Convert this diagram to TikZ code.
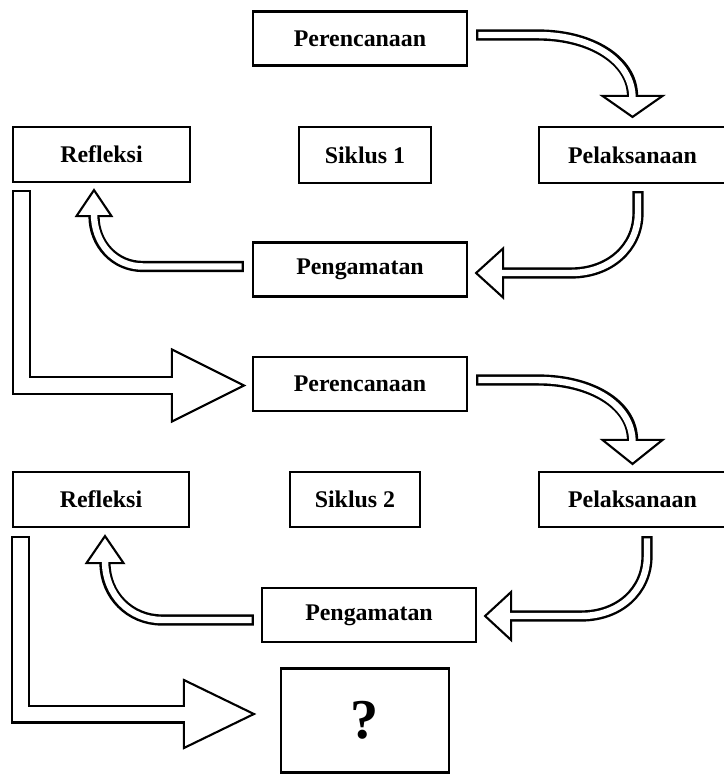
\documentclass[tikz,border=0pt]{standalone}
\usepackage{fontspec}
\setmainfont{Liberation Serif}
\usetikzlibrary{calc}

\begin{document}
\begin{tikzpicture}[x=0.025cm,y=-0.025cm,
  box/.style={draw,line width=1.5pt,minimum width=5.35cm,minimum height=1.35cm,inner sep=0pt,font=\fontsize{17}{19}\selectfont\bfseries},
  shaft/.style={draw,line width=8pt,postaction={draw=white,line width=4.6pt,shorten <=1.7pt,shorten >=-1.8pt}},
  wideshaft/.style={draw,line width=13.5pt,line join=miter,postaction={draw=white,line width=10.6pt,shorten <=1.5pt,shorten >=-2pt}},
  head/.style={draw,fill=white,line width=1.5pt,line join=miter}
]
\useasboundingbox (0,0) rectangle (723,775);

% siklus 1
\node[box] (per1) at (360,38.5) {Perencanaan};
\node[box,minimum width=3.3cm,minimum height=1.4cm] (sik1) at (365,155) {Siklus 1};
\node[box,minimum width=4.675cm,minimum height=1.4cm] (pel1) at (632.5,155) {Pelaksanaan};
\node[box,minimum width=4.425cm,minimum height=1.375cm] (ref1) at (101.5,154.5) {Refleksi};
\node[box] (pen1) at (360,269.5) {Pengamatan};
% siklus 2
\node[box] (per2) at (360,384) {Perencanaan};
\node[box,minimum width=4.4cm,minimum height=1.375cm] (ref2) at (101,499.5) {Refleksi};
\node[box,minimum width=3.25cm,minimum height=1.375cm] (sik2) at (355,499.5) {Siklus 2};
\node[box,minimum width=4.675cm,minimum height=1.375cm] (pel2) at (632.5,499.5) {Pelaksanaan};
\node[box] (pen2) at (369,615) {Pengamatan};
\node[box,minimum width=4.2cm,minimum height=2.6cm,font=\fontsize{40}{42}\selectfont\bfseries] (q) at (365,720.5) {?};

% perencanaan -> pelaksanaan
\coordinate (a1) at ($(per1.east)+(8,-3.5)$);
\coordinate (a2) at ($(pel1.north)+(0,-9)$);
\draw[head] ($(a2)+(-30,-21)$) -- (a2) -- ($(a2)+(30,-21)$) -- cycle;
\draw[shaft] (a1) -- ++(62,0) .. controls +(52,0) and +(0,-36) .. ($(a2)+(0,-21)$);

% pelaksanaan -> pengamatan
\coordinate (b1) at ($(pel1.south)+(5.5,7)$);
\coordinate (b2) at ($(pen1.east)+(8,3.5)$);
\draw[head] ($(b2)+(27,-24.5)$) -- (b2) -- ($(b2)+(27,24.5)$) -- cycle;
\draw[shaft] (b1) -- ++(0,22) .. controls +(0,35) and +(38,0) .. ($(b2)+(95,0)$) -- ($(b2)+(27,0)$);

% pengamatan -> refleksi
\coordinate (c1) at ($(pen1.west)+(-8,-3)$);
\coordinate (c2) at ($(ref1.south)+(-7.5,7)$);
\draw[head] ($(c2)+(-17.5,26)$) -- (c2) -- ($(c2)+(17.5,26)$) -- cycle;
\draw[shaft] (c1) -- ($(c1)+(-101,0)$) .. controls +(-28,0) and +(0,28) .. ($(c2)+(0,26)$);

% refleksi -> perencanaan
\coordinate (d1) at ($(ref1.south west)+(9.5,7)$);
\coordinate (d2) at ($(per2.west)+(-8,1.5)$);
\draw[head] ($(d2)+(-72,-36)$) -- (d2) -- ($(d2)+(-72,36)$) -- cycle;
\draw[wideshaft] (d1) -- (d1 |- d2) -- ($(d2)+(-72,0)$);

% perencanaan -> pelaksanaan
\coordinate (e1) at ($(per2.east)+(8,-4)$);
\coordinate (e2) at ($(pel2.north)+(0,-7)$);
\draw[head] ($(e2)+(-30,-24)$) -- (e2) -- ($(e2)+(30,-24)$) -- cycle;
\draw[shaft] (e1) -- ++(62,0) .. controls +(52,0) and +(0,-36) .. ($(e2)+(0,-24)$);

% pelaksanaan -> pengamatan
\coordinate (f1) at ($(pel2.south)+(14.5,8)$);
\coordinate (f2) at ($(pen2.east)+(8,1)$);
\draw[head] ($(f2)+(26,-24)$) -- (f2) -- ($(f2)+(26,24)$) -- cycle;
\draw[shaft] (f1) -- ++(0,20) .. controls +(0,35) and +(38,0) .. ($(f2)+(96,0)$) -- ($(f2)+(26,0)$);

% pengamatan -> refleksi
\coordinate (g1) at ($(pen2.west)+(-7,5)$);
\coordinate (g2) at ($(ref2.south)+(4,8)$);
\draw[head] ($(g2)+(-18.5,27)$) -- (g2) -- ($(g2)+(18.5,27)$) -- cycle;
\draw[shaft] (g1) -- ($(g1)+(-92,0)$) .. controls +(-32,0) and +(0,32) .. ($(g2)+(0,27)$);

% refleksi -> ?
\coordinate (h1) at ($(ref2.south west)+(9,8)$);
\coordinate (h2) at ($(q.west)+(-26,-6.5)$);
\draw[head] ($(h2)+(-70,-34)$) -- (h2) -- ($(h2)+(-70,34)$) -- cycle;
\draw[wideshaft] (h1) -- (h1 |- h2) -- ($(h2)+(-70,0)$);
\end{tikzpicture}
\end{document}
